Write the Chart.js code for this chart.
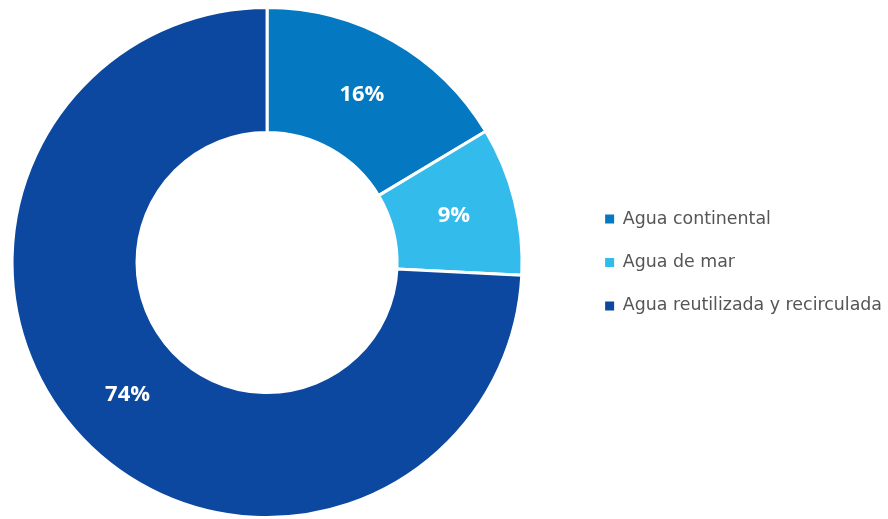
<!DOCTYPE html>
<html>
<head>
<meta charset="utf-8">
<script src="https://cdn.jsdelivr.net/npm/chart.js@4/dist/chart.umd.min.js"></script>
<style>
  html, body { margin: 0; padding: 0; background: #fff; overflow: hidden; }
  #wrap { width: 937px; height: 519px; position: relative; margin-left: -45px; }
</style>
</head>
<body>
<div id="wrap"><canvas id="waterChart"></canvas></div>
<script>
const categories = ['Agua continental', 'Agua de mar', 'Agua reutilizada y recirculada'];
const shares = [16.4, 9.4, 74.2];
const shareLabels = ['16%', '9%', '74%'];
const colors = ['#0479c1', '#33bbec', '#0c48a0'];

// draws the percentage in the middle of each slice
const sliceLabels = {
  id: 'sliceLabels',
  afterDatasetsDraw(chart) {
    const ctx = chart.ctx;
    const meta = chart.getDatasetMeta(0);
    ctx.save();
    ctx.fillStyle = '#ffffff';
    ctx.font = 'bold 22px "Open Sans", sans-serif';
    ctx.textAlign = 'center';
    ctx.textBaseline = 'middle';
    meta.data.forEach((arc, i) => {
      const pos = arc.tooltipPosition();
      ctx.fillText(shareLabels[i], pos.x, pos.y);
    });
    ctx.restore();
  }
};

const ctx = document.getElementById('waterChart').getContext('2d');
new Chart(ctx, {
  type: 'doughnut',
  data: {
    labels: categories,
    datasets: [{
      data: shares,
      backgroundColor: colors,
      borderColor: '#ffffff',
      borderWidth: 3,
      hoverOffset: 0
    }]
  },
  options: {
    responsive: true,
    maintainAspectRatio: false,
    animation: false,
    cutout: '51%',
    layout: { padding: { left: 0, right: 0, top: 6, bottom: 0 } },
    plugins: {
      tooltip: { enabled: false },
      legend: {
        position: 'right',
        labels: {
          boxWidth: 9,
          boxHeight: 9,
          padding: 26,
          color: '#555555',
          font: { family: '"DejaVu Sans", sans-serif', size: 17.4 },
          generateLabels(chart) {
            const items = Chart.overrides.doughnut.plugins.legend.labels.generateLabels(chart);
            items.forEach(item => { item.lineWidth = 0; });
            return items;
          }
        }
      }
    }
  },
  plugins: [sliceLabels]
});
</script>
</body>
</html>
